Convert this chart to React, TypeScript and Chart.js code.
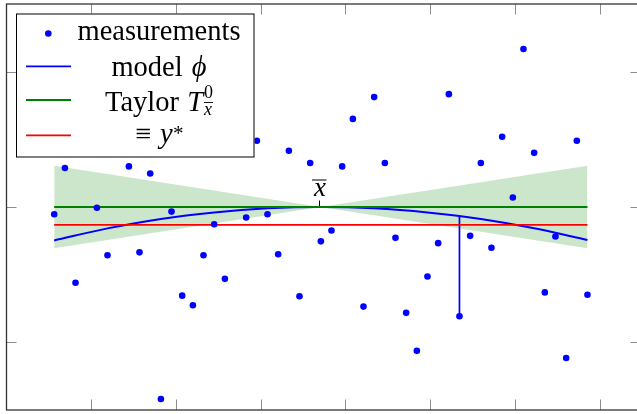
import React, { useEffect, useRef } from "react";
import { Chart, registerables } from "chart.js";

Chart.register(...registerables);

// ---------- data ----------
const X = [
  0.568, 0.694, 0.819, 0.945, 1.071, 1.196, 1.322, 1.448, 1.573, 1.699,
  1.825, 1.95, 2.076, 2.202, 2.327, 2.453, 2.579, 2.704, 2.83, 2.956,
  3.081, 3.207, 3.333, 3.458, 3.584, 3.71, 3.835, 3.961, 4.087, 4.212,
  4.338, 4.464, 4.589, 4.715, 4.841, 4.966, 5.092, 5.218, 5.343, 5.469,
  5.595, 5.72, 5.846, 5.972, 6.097, 6.223, 6.349, 6.474, 6.6, 6.726, 6.851,
];
// null = hidden behind the legend in the reference
const MEASURED: (number | null)[] = [
  -0.054, 0.288, -0.56, null, -0.005, -0.357, null, 0.3, -0.335, 0.248,
  -1.419, -0.034, -0.655, -0.726, -0.357, -0.127, -0.531, null, -0.078, 0.49,
  -0.054, -0.349, 0.416, -0.66, 0.325, -0.254, -0.174, 0.3, 0.651, -0.736,
  0.812, 0.325, -0.228, -0.782, -1.063, -0.514, -0.267, 0.834, -0.807, -0.213,
  0.325, -0.301, 0.519, 0.07, 1.167, 0.4, -0.631, -0.218, -1.116, 0.49, -0.648,
];
const MODEL_X = [0.568, 1.196, 1.825, 2.453, 3.081, 3.705, 4.338, 4.966, 5.595, 6.223, 6.851];
const MODEL_Y = [-0.247, -0.158, -0.088, -0.04, -0.01, 0, -0.01, -0.04, -0.088, -0.157, -0.244];
const X_BAR = 3.705;
const TAYLOR_Y = 0;
const Y_STAR = -0.132;
const BAND_X = [0.568, 3.705, 6.851];
const BAND_UPPER = [0.305, 0, 0.305];
const BAND_LOWER = [-0.305, 0, -0.305];
const RESIDUAL_INDEX = 38;
const RESIDUAL_MODEL_Y = -0.064;
const X_TICKS = [1, 2, 3, 4, 5, 6, 7];
const Y_TICKS = [-1, 0, 1];
const X_RANGE = [0, 7.482];
const Y_RANGE = [-1.5, 1.5];
const LEGEND_LABELS = ["measurements", "model", "Taylor", "\u2261"];

// ---------- styles ----------
const BLUE = "#0000ff";
const GREEN = "#008000";
const RED = "#ff0000";
const BAND = "rgba(0,128,0,0.2)";
const SERIF = "'Liberation Serif', 'Times New Roman', serif";
const font = (size: number, italic = false) => `${italic ? "italic " : ""}${size}px ${SERIF}`;

const frameTicksPlugin = {
  id: "frameTicks",
  afterDraw(chart: any) {
    const { ctx, chartArea: a, scales } = chart;
    const xs = scales.x, ys = scales.y;
    ctx.save();
    // ticks (inside the box, all four sides)
    ctx.strokeStyle = "#8c8c8c";
    ctx.lineWidth = 1;
    const TL = 10.5;
    X_TICKS.forEach((v) => {
      const px = Math.round(xs.getPixelForValue(v)) + 0.5;
      ctx.beginPath();
      ctx.moveTo(px, a.bottom); ctx.lineTo(px, a.bottom - TL);
      ctx.moveTo(px, a.top); ctx.lineTo(px, a.top + TL);
      ctx.stroke();
    });
    Y_TICKS.forEach((v) => {
      const py = Math.round(ys.getPixelForValue(v)) + 0.5;
      ctx.beginPath();
      ctx.moveTo(a.left, py); ctx.lineTo(a.left + TL, py);
      ctx.moveTo(a.right, py); ctx.lineTo(a.right - TL, py);
      ctx.stroke();
    });
    // frame
    ctx.strokeStyle = "#333";
    ctx.lineWidth = 1.3;
    ctx.strokeRect(a.left + 0.5, a.top, a.right - a.left, a.bottom - a.top);

    // x-bar marker on the Taylor line
    const mx = Math.round(xs.getPixelForValue(X_BAR)) - 0.5;
    const my = ys.getPixelForValue(TAYLOR_Y);
    ctx.strokeStyle = "#000";
    ctx.lineWidth = 1;
    ctx.beginPath();
    ctx.moveTo(mx, my - 1); ctx.lineTo(mx, my - 6.5);
    ctx.stroke();
    ctx.fillStyle = "#000";
    ctx.font = font(27, true);
    ctx.textAlign = "center";
    ctx.textBaseline = "alphabetic";
    ctx.fillText("x", mx + 0.5, my - 11.5);
    ctx.beginPath();
    ctx.moveTo(mx - 7.5, my - 27); ctx.lineTo(mx + 7, my - 27);
    ctx.stroke();

    // legend
    const L = a.left + 10, T = a.top + 9.5, W = 238.5, H = 144;
    ctx.fillStyle = "#fff";
    ctx.fillRect(L, T, W, H);
    ctx.strokeStyle = "#000";
    ctx.lineWidth = 1;
    ctx.strokeRect(L + 0.5, T + 0.5, W - 1, H - 1);

    // symbols
    ctx.fillStyle = BLUE;
    ctx.beginPath();
    ctx.arc(L + 32.3, T + 20, 3.3, 0, Math.PI * 2);
    ctx.fill();
    const sym = (y: number, c: string) => {
      ctx.strokeStyle = c; ctx.lineWidth = 1.8;
      ctx.beginPath(); ctx.moveTo(L + 10, y); ctx.lineTo(L + 55, y); ctx.stroke();
    };
    sym(T + 52.8, BLUE);
    sym(T + 86.5, GREEN);
    sym(T + 121.8, RED);

    // texts
    const cx = L + 143;
    const FS = 28.5;
    ctx.fillStyle = "#000";
    ctx.textAlign = "left";
    const mw = (t: string, f: string) => { ctx.font = f; return ctx.measureText(t).width; };
    const put = (t: string, f: string, x: number, y: number) => { ctx.font = f; ctx.fillText(t, x, y); };

    // row 1
    {
      const w = mw(LEGEND_LABELS[0], font(FS));
      put(LEGEND_LABELS[0], font(FS), cx - w / 2, T + 26);
    }
    // row 2: model ϕ
    {
      const w1 = mw(LEGEND_LABELS[1], font(FS));
      const sp = mw(" ", font(FS)) + 2;
      const w2 = mw("\u03D5", font(FS, true));
      const s = cx - (w1 + sp + w2) / 2;
      put(LEGEND_LABELS[1], font(FS), s, T + 62.5);
      put("\u03D5", font(FS, true), s + w1 + sp, T + 62.5);
    }
    // row 3: Taylor T^0_{x̄}
    {
      const w1 = mw(LEGEND_LABELS[2], font(FS));
      const sp = mw(" ", font(FS)) + 1;
      const w2 = mw("T", font(FS, true));
      const w3 = Math.max(mw("0", font(18)), mw("x", font(18, true)) + 1);
      const s = cx - (w1 + sp + w2 + 1 + w3) / 2;
      const b = T + 97.5;
      put(LEGEND_LABELS[2], font(FS), s, b);
      put("T", font(FS, true), s + w1 + sp, b);
      const sx = s + w1 + sp + w2 + 1;
      put("0", font(18), sx, b - 13);
      put("x", font(18, true), sx, b + 3.5);
      ctx.strokeStyle = "#000"; ctx.lineWidth = 0.9;
      ctx.beginPath(); ctx.moveTo(sx, b - 8.5); ctx.lineTo(sx + w3, b - 8.5); ctx.stroke();
    }
    // row 4: ≡ y*
    {
      const w1 = mw(LEGEND_LABELS[3], font(FS));
      const sp = 9;
      const w2 = mw("y", font(FS, true));
      const w3 = mw("*", font(21));
      const s = cx - (w1 + sp + w2 + w3) / 2;
      const b = T + 129.5;
      put(LEGEND_LABELS[3], font(FS), s, b);
      put("y", font(FS, true), s + w1 + sp, b);
      put("*", font(21), s + w1 + sp + w2 + 0.5, b - 3);
    }
    ctx.restore();
  },
};

export default function App() {
  const ref = useRef<HTMLCanvasElement>(null);
  useEffect(() => {
    const canvas = ref.current!;
    const meas = X.map((x, i) => ({ x, y: MEASURED[i] })).filter((p) => p.y !== null);
    const line = (pts: { x: number; y: number }[], color: string, extra: any = {}) => ({
      data: pts,
      borderColor: color,
      borderWidth: 1.8,
      pointRadius: 0,
      fill: false,
      ...extra,
    });
    const chart = new Chart(canvas, {
      type: "line",
      data: {
        datasets: [
          {
            label: "measurements",
            data: meas as any,
            showLine: false,
            pointRadius: 3.3,
            pointBorderWidth: 0,
            pointBackgroundColor: BLUE,
            borderColor: BLUE,
            backgroundColor: BLUE,
          },
          line([{ x: X[0], y: Y_STAR }, { x: X[X.length - 1], y: Y_STAR }], RED),
          line([{ x: X[0], y: TAYLOR_Y }, { x: X[X.length - 1], y: TAYLOR_Y }], GREEN),
          line(
            [
              { x: X[RESIDUAL_INDEX], y: RESIDUAL_MODEL_Y },
              { x: X[RESIDUAL_INDEX], y: MEASURED[RESIDUAL_INDEX] as number },
            ],
            BLUE,
            { borderWidth: 1.7 }
          ),
          line(MODEL_X.map((x, i) => ({ x, y: MODEL_Y[i] })), BLUE, {
            cubicInterpolationMode: "monotone",
            borderWidth: 2,
          }),
          line(BAND_X.map((x, i) => ({ x, y: BAND_UPPER[i] })), "rgba(0,0,0,0)", {
            fill: "+1",
            backgroundColor: BAND,
            borderWidth: 0.01,
          }),
          line(BAND_X.map((x, i) => ({ x, y: BAND_LOWER[i] })), "rgba(0,0,0,0)", {
            borderWidth: 0.01,
          }),
        ] as any,
      },
      options: {
        animation: false,
        responsive: false,
        maintainAspectRatio: false,
        devicePixelRatio: 1,
        layout: { padding: { left: 6, right: 3, top: 3, bottom: 2 } },
        scales: {
          x: { type: "linear", min: X_RANGE[0], max: X_RANGE[1], display: false },
          y: { type: "linear", min: Y_RANGE[0], max: Y_RANGE[1], display: false },
        },
        plugins: {
          legend: { display: false },
          tooltip: { enabled: false },
        },
        events: [],
      },
      plugins: [frameTicksPlugin],
    });
    return () => chart.destroy();
  }, []);
  return (
    <div
      style={{
        position: "fixed",
        left: 0,
        top: 0,
        width: 637,
        height: 414,
        overflow: "hidden",
        background: "#fff",
      }}
    >
      <canvas ref={ref} width={645} height={414} style={{ display: "block", width: 645, height: 414 }} />
    </div>
  );
}
